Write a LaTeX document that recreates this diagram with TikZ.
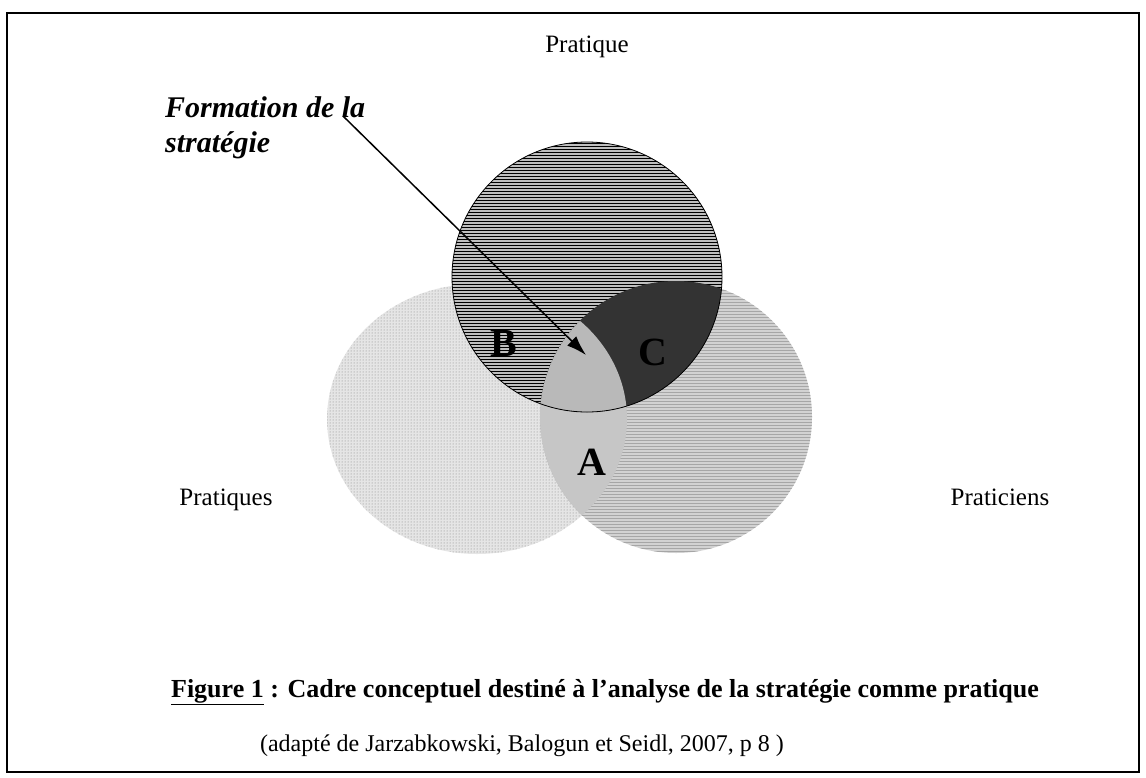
\documentclass[tikz,border=0pt]{standalone}
\usepackage{fontspec}
\setmainfont{Liberation Serif}
\usetikzlibrary{arrows.meta,patterns}

\newcommand{\circpratique}{(587,277) circle (135pt)}
\newcommand{\circpratiques}{(477,419) ellipse (150pt and 135pt)}
\newcommand{\circpraticiens}{(676,417) circle (136pt)}

\tikzset{
  circ/.style={circle, minimum size=270pt, inner sep=0pt},
  lbl/.style={font=\fontsize{25}{29}\selectfont},
  letter/.style={font=\fontsize{40}{42}\selectfont\bfseries},
}

\begin{document}
\begin{tikzpicture}[x=1pt,y=-1pt]
\useasboundingbox (0,0) rectangle (1146,777);
\draw[line width=1.2pt] (7,13) rectangle (1139,772);

% the three sets
\node[circ] (pratique) at (587,277) {};
\node[circ] (pratiques) at (477,419) {};
\node[circ] (praticiens) at (676,417) {};

\fill[gray!20] \circpratiques;
\fill[gray!35] \circpraticiens;
\fill[pattern=dots, pattern color=gray] \circpratiques;
\fill[pattern=horizontal lines, pattern color=gray!70] \circpraticiens;
\begin{scope}
  \clip \circpratiques;
  \fill[gray!45] \circpraticiens;
\end{scope}
\fill[gray!50] \circpratique;
\fill[pattern=horizontal lines] \circpratique;
\begin{scope}
  \clip \circpratique;
  \fill[black!80] \circpraticiens;
  \clip \circpratiques;
  \fill[gray!55] \circpraticiens;
\end{scope}
\draw[line width=0.8pt] \circpratique;

% labels
\node[lbl] (t-pratique) at (587,47) {Pratique};
\node[lbl] (t-pratiques) at (226,500) {Pratiques};
\node[lbl] (t-praticiens) at (1000,497) {Praticiens};
\node[letter] (b) at (504,343) {B};
\node[letter] (c) at (653,352) {C};
\node[letter] (a) at (592,462) {A};

\node[anchor=north west, align=left, inner sep=0pt,
  font=\fontsize{30}{35}\selectfont\bfseries\itshape] (formation) at (165,96)
  {Formation de la\\stratégie};
\coordinate (src) at (343,116);
\coordinate (tip) at (586,355);
\draw[line width=1.5pt, -{Latex[length=20pt,width=13pt]}] (src) -- (tip);

% caption
\node[font=\fontsize{26}{30}\selectfont\bfseries] (caption) at (605,692)
  {\underline{Figure 1} : Cadre conceptuel destiné à l’analyse de la stratégie comme pratique};
\node[lbl, font=\fontsize{24}{28}\selectfont] (source) at (522,746)
  {(adapté de Jarzabkowski, Balogun et Seidl, 2007, p 8 )};
\end{tikzpicture}
\end{document}
